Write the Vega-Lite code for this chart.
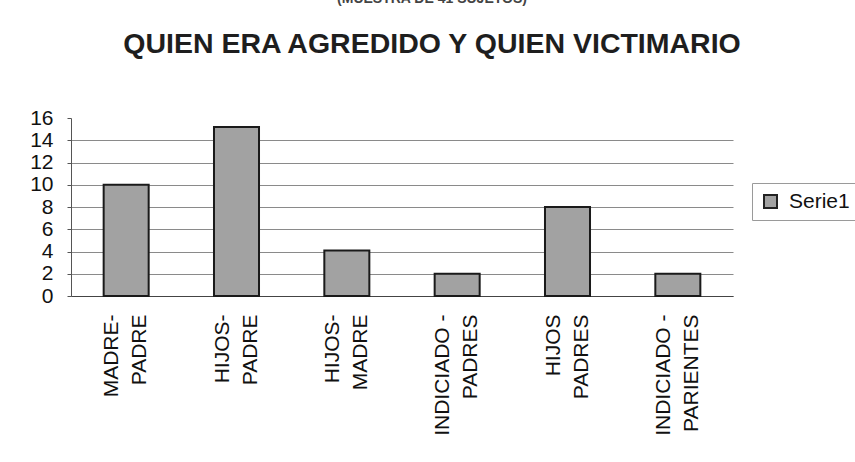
{
  "$schema": "https://vega.github.io/schema/vega-lite/v6.json",
  "width": 662,
  "height": 178,
  "autosize": {"type": "none"},
  "padding": {"left": 71, "top": 118, "right": 122, "bottom": 166},
  "background": "white",
  "title": {
    "text": "(MUESTRA DE 41 SUJETOS)",
    "subtitle": "QUIEN ERA AGREDIDO Y QUIEN VICTIMARIO",
    "anchor": "middle",
    "frame": "group",
    "dx": 30,
    "font": "Liberation Sans",
    "fontSize": 14,
    "fontWeight": "bold",
    "color": "#444444",
    "subtitleFont": "Liberation Sans",
    "subtitleFontSize": 28.5,
    "subtitleFontWeight": "bold",
    "subtitleColor": "#1e1e1e",
    "subtitlePadding": 24,
    "offset": 49
  },
  "data": {
    "values": [
      {"relacion": "MADRE-\nPADRE", "casos": 10, "serie": "Serie1"},
      {"relacion": "HIJOS-\nPADRE", "casos": 15.2, "serie": "Serie1"},
      {"relacion": "HIJOS-\nMADRE", "casos": 4.1, "serie": "Serie1"},
      {"relacion": "INDICIADO -\nPADRES", "casos": 2, "serie": "Serie1"},
      {"relacion": "HIJOS\nPADRES", "casos": 8, "serie": "Serie1"},
      {"relacion": "INDICIADO -\nPARIENTES", "casos": 2, "serie": "Serie1"}
    ]
  },
  "mark": {"type": "bar", "stroke": "#1a1a1a", "strokeWidth": 2},
  "encoding": {
    "x": {
      "field": "relacion",
      "type": "nominal",
      "sort": null,
      "scale": {"paddingInner": 0.592, "paddingOuter": 0.296},
      "axis": {
        "title": null,
        "labelAngle": -90,
        "labelAlign": "right",
        "labelBaseline": "middle",
        "labelFont": "Liberation Sans",
        "labelFontSize": 21,
        "labelLineHeight": 28,
        "labelOffset": -14,
        "labelColor": "#111111",
        "labelPadding": 18,
        "ticks": false,
        "domainColor": "#444444",
        "labelExpr": "split(datum.label, '\\n')"
      }
    },
    "y": {
      "field": "casos",
      "type": "quantitative",
      "scale": {"domain": [0, 16], "nice": false},
      "axis": {
        "title": null,
        "values": [0, 2, 4, 6, 8, 10, 12, 14, 16],
        "labelFont": "Liberation Sans",
        "labelFontSize": 21,
        "labelColor": "#111111",
        "labelPadding": 14,
        "labelBaseline": "middle",
        "tickSize": 4,
        "tickColor": "#555555",
        "domainColor": "#555555",
        "gridColor": "#8a8a8a",
        "gridOpacity": {"condition": {"test": "datum.value == 16", "value": 0}, "value": 1}
      }
    },
    "color": {
      "field": "serie",
      "type": "nominal",
      "scale": {"range": ["#a2a2a2"]},
      "legend": {
        "title": null,
        "orient": "none",
        "legendX": 681,
        "legendY": 65,
        "strokeColor": "#9a9a9a",
        "padding": 8,
        "symbolType": "square",
        "symbolSize": 169,
        "symbolFillColor": "#c9c9c9",
        "symbolStrokeColor": "#222222",
        "symbolStrokeWidth": 2,
        "labelFont": "Liberation Sans",
        "labelFontSize": 21,
        "labelColor": "#111111",
        "labelOffset": 8
      }
    }
  },
  "config": {"view": {"stroke": null}}
}
